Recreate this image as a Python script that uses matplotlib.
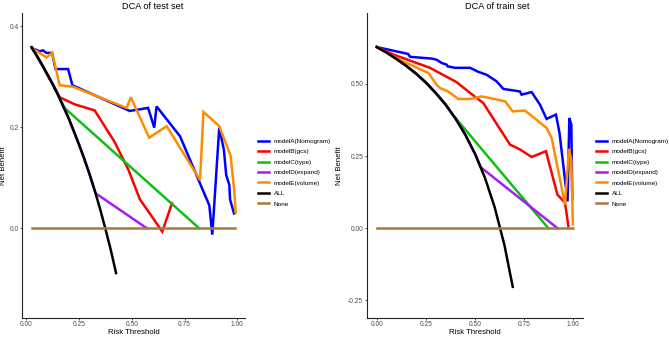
import matplotlib
matplotlib.use("Agg")
import matplotlib.pyplot as plt

plt.rcParams['font.family'] = ['Liberation Sans', 'DejaVu Sans']

labels = ["modelA(Nomogram)", "modelB(gcs)", "modelC(type)", "modelD(expand)",
          "modelE(volume)", "ALL", "None"]
colors = ["#0000FF", "#FF0000", "#10C010", "#A020F0", "#FF8C00", "#000000", "#A57A3F"]

# ---- test set ----
test_A_x = [0.025, 0.063, 0.079, 0.095, 0.122, 0.138, 0.198, 0.218, 0.49, 0.577, 0.606, 0.617,
            0.728, 0.867, 0.881, 0.914, 0.936, 0.947, 0.962, 0.965, 0.984]
test_A_y = [0.357, 0.350, 0.352, 0.347, 0.347, 0.315, 0.315, 0.283, 0.232, 0.238, 0.199, 0.241,
            0.182, 0.045, -0.013, 0.199, 0.155, 0.105, 0.085, 0.057, 0.029]
test_B_x = [0.025, 0.05, 0.075, 0.10, 0.125, 0.158, 0.23, 0.324, 0.419, 0.483, 0.538, 0.593, 0.644, 0.69]
test_B_y = [0.358, 0.341, 0.323, 0.304, 0.285, 0.259, 0.245, 0.233, 0.170, 0.116, 0.057, 0.024, -0.007, 0.049]
test_C_x = [0.025, 0.05, 0.075, 0.10, 0.125, 0.15, 0.181, 0.818]
test_C_y = [0.358, 0.341, 0.323, 0.304, 0.285, 0.264, 0.238, 0.0]
test_D_x = [0.025, 0.05, 0.10, 0.15, 0.20, 0.25, 0.30, 0.328, 0.57]
test_D_y = [0.358, 0.341, 0.304, 0.264, 0.218, 0.165, 0.106, 0.069, 0.0]
test_E_x = [0.025, 0.095, 0.122, 0.158, 0.221, 0.475, 0.495, 0.582, 0.665, 0.823, 0.839, 0.914,
            0.968, 0.986, 0.992]
test_E_y = [0.357, 0.338, 0.347, 0.283, 0.280, 0.238, 0.259, 0.179, 0.202, 0.095, 0.230, 0.202,
            0.143, 0.070, 0.030]
test_all_x = [0.025, 0.05, 0.075, 0.10, 0.125, 0.15, 0.175, 0.20, 0.225, 0.25, 0.275, 0.30,
              0.325, 0.35, 0.375, 0.40, 0.425]
test_all_y = [0.358, 0.341, 0.323, 0.304, 0.285, 0.264, 0.241, 0.218, 0.192, 0.165, 0.137, 0.106,
              0.073, 0.037, -0.002, -0.043, -0.089]
test_none_x = [0.025, 0.99]
test_none_y = [0.0, 0.0]

# ---- train set ----
train_A_x = [0.0, 0.16, 0.17, 0.28, 0.305, 0.33, 0.356, 0.361, 0.398, 0.475, 0.517, 0.559, 0.61,
             0.644, 0.729, 0.737, 0.788, 0.831, 0.864, 0.912, 0.93, 0.971, 0.98, 0.99, 0.995]
train_A_y = [0.628, 0.604, 0.594, 0.588, 0.584, 0.573, 0.567, 0.561, 0.556, 0.556, 0.542, 0.532,
             0.509, 0.483, 0.474, 0.463, 0.472, 0.428, 0.379, 0.394, 0.33, 0.093, 0.382, 0.359, 0.100]
train_B_x = [0.0, 0.085, 0.271, 0.407, 0.475, 0.542, 0.678, 0.729, 0.788, 0.861, 0.919, 0.958, 0.975]
train_B_y = [0.628, 0.602, 0.556, 0.506, 0.469, 0.434, 0.290, 0.273, 0.247, 0.267, 0.117, 0.088, 0.007]
train_C_x = [0.0, 0.05, 0.1, 0.15, 0.2, 0.25, 0.3, 0.35, 0.39, 0.873]
train_C_y = [0.628, 0.609, 0.587, 0.563, 0.536, 0.505, 0.469, 0.429, 0.391, 0.0]
train_D_x = [0.0, 0.05, 0.1, 0.15, 0.2, 0.25, 0.3, 0.35, 0.4, 0.45, 0.5, 0.53, 0.92]
train_D_y = [0.628, 0.609, 0.587, 0.563, 0.536, 0.505, 0.469, 0.429, 0.381, 0.325, 0.258, 0.211, 0.0]
train_E_x = [0.0, 0.085, 0.136, 0.263, 0.305, 0.322, 0.364, 0.415, 0.475, 0.534, 0.653, 0.692,
             0.754, 0.864, 0.89, 0.958, 0.978, 0.99, 0.998]
train_E_y = [0.628, 0.596, 0.578, 0.538, 0.497, 0.486, 0.474, 0.448, 0.448, 0.457, 0.440, 0.405,
             0.408, 0.348, 0.313, 0.082, 0.275, 0.238, 0.013]
train_all_x = [0.0, 0.05, 0.1, 0.15, 0.2, 0.25, 0.3, 0.35, 0.4, 0.45, 0.5, 0.55, 0.6, 0.65, 0.692]
train_all_y = [0.628, 0.609, 0.587, 0.563, 0.536, 0.505, 0.469, 0.429, 0.381, 0.325, 0.258,
               0.176, 0.073, -0.059, -0.203]
train_none_x = [0.0, 1.0]
train_none_y = [0.0, 0.0]

x_ticks = [0.0, 0.25, 0.5, 0.75, 1.0]
x_ticklabels = ["0.00", "0.25", "0.50", "0.75", "1.00"]
test_yticks = [0.0, 0.2, 0.4]
test_yticklabels = ["0.0", "0.2", "0.4"]
train_yticks = [-0.25, 0.0, 0.25, 0.5]
train_yticklabels = ["-0.25", "0.00", "0.25", "0.50"]

W, H = 669, 337
fig = plt.figure(figsize=(W / 100, H / 100), dpi=100)


def panel(rect, series, xlim, ylim, yticks, yticklabels, title, title_x, ylab_x, leg_x):
    ax = fig.add_axes(rect)
    for (xs, ys), col, lab in zip(series, colors, labels):
        ax.plot(xs, ys, color=col, lw=1.8, label=lab, solid_joinstyle='miter')
    ax.set_xlim(*xlim)
    ax.set_ylim(*ylim)
    ax.set_xticks(x_ticks)
    ax.set_xticklabels(x_ticklabels)
    ax.set_yticks(yticks)
    ax.set_yticklabels(yticklabels)
    for s in ["top", "right"]:
        ax.spines[s].set_visible(False)
    for s in ["left", "bottom"]:
        ax.spines[s].set_linewidth(0.8)
        ax.spines[s].set_color("#222222")
    ax.tick_params(length=1.5, width=0.6, color="#333333", labelsize=4.8,
                   labelcolor="#4D4D4D", pad=1.0)
    ax.set_xlabel("Risk Threshold", fontsize=5.6)
    ax.set_ylabel("Net Benefit", fontsize=5.6)
    ax.xaxis.set_label_coords(0.5, -0.035)
    ax.yaxis.set_label_coords(ylab_x, 0.5)
    fig.text(title_x / W, 1 - 6.5 / H, title, ha="center", va="center", fontsize=6.6)
    ax.legend(loc="center left", bbox_to_anchor=(leg_x / W, 1 - 172.5 / H),
              bbox_transform=fig.transFigure, frameon=False, fontsize=4.6,
              handlelength=1.7, handletextpad=0.8, labelspacing=0.78,
              borderpad=0, borderaxespad=0)
    return ax


test_series = [(test_A_x, test_A_y), (test_B_x, test_B_y), (test_C_x, test_C_y),
               (test_D_x, test_D_y), (test_E_x, test_E_y), (test_all_x, test_all_y),
               (test_none_x, test_none_y)]
train_series = [(train_A_x, train_A_y), (train_B_x, train_B_y), (train_C_x, train_C_y),
                (train_D_x, train_D_y), (train_E_x, train_E_y), (train_all_x, train_all_y),
                (train_none_x, train_none_y)]

bottom = 1 - 318 / H
height = (318 - 13) / H
panel([22 / W, bottom, 223 / W, height], test_series, (-0.0206, 1.036), (-0.178, 0.426),
      test_yticks, test_yticklabels, "DCA of test set", 153, -0.068, 258)
panel([366.7 / W, bottom, 216.6 / W, height], train_series, (-0.051, 1.051), (-0.311, 0.746),
      train_yticks, train_yticklabels, "DCA of train set", 497, -0.11, 596)

fig.savefig("out.png", dpi=100)
